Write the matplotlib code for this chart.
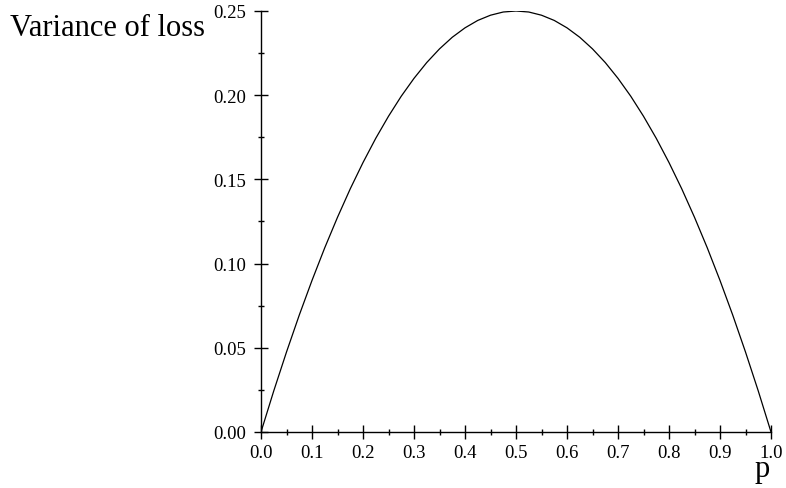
import matplotlib
matplotlib.use("Agg")
import matplotlib.pyplot as plt
from matplotlib.ticker import MultipleLocator, FormatStrFormatter

# values (variance of loss vs p)
p_values = [0.0, 0.025, 0.05, 0.075, 0.1, 0.125, 0.15, 0.175, 0.2, 0.225, 0.25,
            0.275, 0.3, 0.325, 0.35, 0.375, 0.4, 0.425, 0.45, 0.475, 0.5,
            0.525, 0.55, 0.575, 0.6, 0.625, 0.65, 0.675, 0.7, 0.725, 0.75,
            0.775, 0.8, 0.825, 0.85, 0.875, 0.9, 0.925, 0.95, 0.975, 1.0]
variance = [0.0, 0.0244, 0.0475, 0.0694, 0.09, 0.1094, 0.1275, 0.1444, 0.16, 0.1744, 0.1875,
            0.1994, 0.21, 0.2194, 0.2275, 0.2344, 0.24, 0.2444, 0.2475, 0.2494, 0.25,
            0.2494, 0.2475, 0.2444, 0.24, 0.2344, 0.2275, 0.2194, 0.21, 0.1994, 0.1875,
            0.1744, 0.16, 0.1444, 0.1275, 0.1094, 0.09, 0.0694, 0.0475, 0.0244, 0.0]
y_label = "Variance of loss"
x_label = "p"

plt.rcParams['font.family'] = ['Liberation Serif', 'DejaVu Serif']

fig = plt.figure(figsize=(7.86, 4.89), dpi=100)
ax = fig.add_axes([261/786, 1-433/489, (771-261)/786, (433-12)/489])
ax.plot(p_values, variance, color='black', lw=0.9)
ax.set_xlim(0, 1.0)
ax.set_ylim(0, 0.25)

for s in ['top', 'right']:
    ax.spines[s].set_visible(False)
for s in ['left', 'bottom']:
    ax.spines[s].set_linewidth(1.0)

ax.xaxis.set_major_locator(MultipleLocator(0.1))
ax.xaxis.set_minor_locator(MultipleLocator(0.05))
ax.yaxis.set_major_locator(MultipleLocator(0.05))
ax.yaxis.set_minor_locator(MultipleLocator(0.025))
ax.xaxis.set_major_formatter(FormatStrFormatter('%.1f'))
ax.yaxis.set_major_formatter(FormatStrFormatter('%.2f'))

ax.tick_params(which='major', direction='inout', length=9.5, width=1.0,
               labelsize=13.5, pad=4)
ax.tick_params(which='minor', direction='inout', length=5, width=1.0)
ax.tick_params(axis='y', which='major', pad=6)

fig.text(10/786, 1-36/489, y_label, fontsize=22, ha='left', va='baseline')
fig.text(762/786, 1-477/489, x_label, fontsize=22, ha='center', va='baseline')

fig.savefig("out.png", dpi=100)
